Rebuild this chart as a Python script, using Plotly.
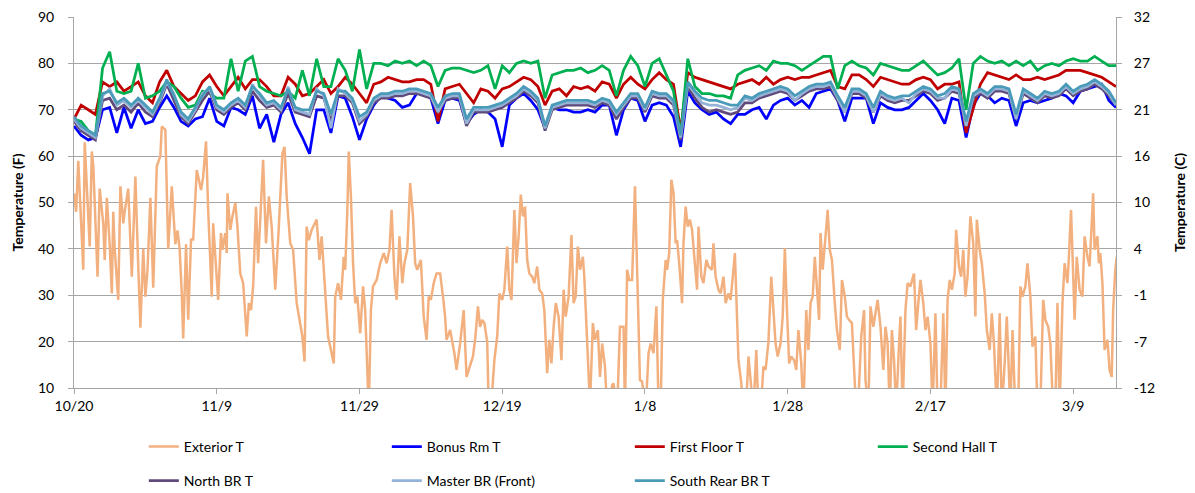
import pandas as pd
import plotly.graph_objects as go

start = pd.Timestamp("2012-10-20")
tick_days = [0, 20, 40, 60, 80, 100, 120, 140]
tick_labels = ["10/20", "11/9", "11/29", "12/19", "1/8", "1/28", "2/17", "3/9"]
f_ticks = [10, 20, 30, 40, 50, 60, 70, 80, 90]
c_labels = ["-12", "-7", "-1", "4", "10", "16", "21", "27", "32"]

ext_day = [0.0,0.3,0.6,1.1,1.3,1.5,1.8,2.2,2.5,2.7,3.3,3.6,4.1,4.3,4.6,5.0,5.3,5.5,5.7,6.2,6.5,6.9,7.1,7.6,8.1,8.6,8.9,9.3,9.7,10.0,10.3,10.7,11.1,11.6,12.1,12.3,12.8,13.0,13.2,13.7,14.2,14.5,14.8,15.1,15.3,15.7,16.0,16.4,16.7,17.2,
 17.8,18.1,18.5,18.8,19.3,19.5,20.0,20.2,20.6,20.8,21.2,21.4,21.5,21.9,22.2,22.6,22.9,23.3,23.7,24.2,24.5,24.8,25.1,25.5,25.8,26.2,26.5,26.9,27.3,27.7,28.2,28.7,29.2,29.5,29.8,30.3,30.7,31.2,31.7,32.0,32.3,32.6,32.9,33.3,34.0,34.4,34.7,35.2,35.6,
 36.4,36.6,37.0,37.4,37.8,38.0,38.3,38.5,38.8,39.1,39.4,39.7,40.1,40.5,40.8,41.3,41.6,41.9,42.4,42.9,43.4,43.8,44.2,44.5,44.9,45.2,45.6,46.0,46.3,46.7,47.1,47.5,47.8,48.1,48.6,49.0,49.4,49.7,50.0,50.4,50.8,51.3,51.7,52.0,52.2,52.7,53.3,53.6,54.1,54.6,55.0,
 55.5,55.9,56.2,56.6,56.9,57.2,57.5,57.9,58.1,58.5,58.9,59.3,59.6,60.0,60.3,60.7,61.0,61.3,61.7,62.0,62.3,62.6,62.9,63.2,63.5,63.8,64.2,64.5,64.9,65.2,65.6,65.9,66.3,66.6,66.9,67.2,67.5,67.9,68.3,68.6,68.9,69.3,69.7,70.0,70.3,70.6,70.9,71.3,71.5,71.9,72.3,72.7,73.0,73.4,73.7,74.0,
 74.4,74.7,75.4,75.6,76.1,76.5,77.0,77.2,77.5,77.8,78.2,78.6,78.9,79.3,79.6,80.1,80.5,80.8,81.2,81.6,81.9,82.2,82.5,82.9,83.1,83.4,83.7,84.0,84.3,84.5,84.8,85.2,85.4,85.7,86.0,86.3,86.6,86.9,87.3,87.5,87.9,88.2,88.6,88.9,89.4,89.6,89.9,90.3,90.6,91.0,91.3,91.7,92.0,92.4,92.6,
 93.1,93.5,93.8,94.2,94.5,94.8,95.2,95.6,95.9,96.3,96.6,96.9,97.3,97.7,97.9,98.3,98.6,99.0,99.3,99.6,99.9,100.2,100.5,100.9,101.2,101.5,101.9,102.2,102.6,102.9,103.2,103.5,103.8,104.1,104.4,104.6,104.9,105.3,105.6,105.9,106.2,106.6,106.9,107.3,107.6,108.0,108.3,108.6,109.0,109.2,109.6,109.9,110.3,110.7,110.9,111.3,111.6,
 112.0,112.3,112.6,113.0,113.4,113.7,114.0,114.3,114.6,114.9,115.2,115.6,115.8,116.1,116.5,116.8,117.2,117.7,118.0,118.3,118.6,119.0,119.3,119.6,120.0,120.3,120.7,121.0,121.4,121.8,122.1,122.4,122.7,123.0,123.4,123.6,124.0,124.3,124.6,124.9,125.2,125.6,126.0,126.3,126.5,126.9,127.2,127.6,127.9,128.3,128.6,128.9,129.3,129.7,130.0,130.4,130.7,
 131.2,131.5,131.9,132.3,132.6,132.9,133.3,133.6,134.0,134.3,134.7,135.0,135.4,135.8,136.1,136.5,136.8,137.2,137.5,137.8,138.1,138.5,138.8,139.2,139.4,139.7,139.9,140.2,140.5,140.9,141.3,141.6,142.0,142.3,142.6,142.8,143.0,143.4,143.6,143.8,144.1,144.4,144.8,145.1,145.4,145.6,145.9,146.1]

ext_temp = [52,48,59,44,35.5,63,53,40.5,61,58,34,53,45.5,37.6,51,41,30.4,48,40,29,53.5,45.5,48,53,34,55.6,41,23,40,29.7,35.5,51,31.6,57.8,60,66.4,65.7,54,40,53.5,41,44,40,30.4,20.7,41,24.7,42,42,57,
 52.7,55.6,63.2,48.4,29.7,45.5,33.3,29,43.4,39.8,43.4,39.1,52,44.1,47,49.9,44.8,34.7,32.6,21.1,28.3,26.8,31.9,49.1,36.9,48.4,59.2,41.2,51.3,44.8,31.2,44.8,60.6,62,51.3,41.2,39.8,28.3,23.2,21.1,15.7,44.8,41.9,44.1,46.3,37.6,42.7,30.4,21.1,
 15.3,29.7,32.6,29,38.3,35.5,48.4,61,51.3,36.9,28.3,29.7,21.8,31.9,26.8,5,26.8,31.9,33.3,36.9,39.1,36.9,39.8,48.4,34,29,42.7,32.6,36.9,39.8,54.2,47,36.9,35.5,37.6,25.4,20.4,29.7,29,32.6,34.7,34.7,29.7,25.4,20.4,22.5,17.5,13.9,19.6,26.8,12.4,
 14.6,16.8,20.4,27.6,23.2,24.7,24,19.9,6,7,16,21.1,30.4,29,31.2,40.5,31.2,29,48.4,36.9,42.7,51.7,47,49.1,37.6,34.7,34,32.6,36.2,31.2,30.4,26.8,13.2,20.4,15.3,23.2,28.3,25.4,16,31.2,25.4,29.7,43,28.3,29.7,40.5,35.5,38.3,34,19.6,6,24,20.4,22.5,12.4,19.6,
 14.6,5,10.6,11,5,23.2,23.2,5,35.5,33.3,33.3,53.5,32.6,11.7,11.4,5,17.5,19.6,17.5,27.6,6,6,29,37.6,35.5,39.1,54.9,52,41.2,41.9,36.9,28.3,41.2,49.1,44.8,46.3,44.1,38.3,31.2,44.8,34,32.6,37.6,36.2,35.5,41.2,34,31.2,30.4,34,28.3,30.4,29,35.5,39.1,
 16,11,5,7,16.8,11,5,18.2,5,7,14.6,13.9,19.9,34,28.3,19.6,16.8,19.6,25.4,40.1,26.8,15.3,16.8,16,13.9,22.5,15.3,5,26.8,18.2,28.3,29.7,38.3,31.2,24.7,43.4,35.5,42.7,48.4,39.8,37.6,28.3,22.5,18.2,33.3,29.7,25.4,24.7,24,17.5,5,7,21.1,26.8,11.7,5,27.6,
 23.2,26.1,29,23.2,13.9,23.2,19.6,5,22.5,16,5,19.6,25.4,5,26.8,32.6,31.9,34.7,22.5,28.3,33.3,28.3,22.5,25.4,19.6,5,26.1,5,6,26.1,5,29,33.3,31.2,34.7,44.1,36.2,34,39.8,29.7,34,47,41.2,25.4,46.3,39.8,36.9,30.4,22.5,18.2,26.1,19.6,5,26.1,5,15.3,25.4,
 5,22.5,5,6,31.9,29.7,31.9,36.9,29.7,18.9,21.1,5,6,29,24.7,23.2,19.6,5,6,28.3,5,28.3,36.9,32.6,38.3,48.4,39.1,24.7,38.3,31.2,29.7,42.7,38.3,36.2,45.5,52,39.8,42.7,36.9,39.1,32.6,18.2,20.4,13.9,12.4,26.8,35.5,38.3]

bonus_rm = [66.5,64.5,63.5,64,70,70.5,65,70.5,66,70,67,67.5,70.5,73,70.5,67.5,66.5,68,68.5,72.5,
 67.5,66.5,70.5,70,69,73,66,69,63,69,71.5,67,64,60.5,70,70,65,73,72.5,68.5,
 63.5,68,71,73,72.5,72,70.5,71,73.5,73.5,72.5,67,72,72.5,72,67,69,70,69.5,68,
 62,71,72.5,73.5,72,70,66,70.5,70,70,69.5,69.5,70,69.5,71,71,64.5,70,72.5,72,
 67.5,71,71.5,71,68.5,62,74,71.5,70,69,69.5,68,67,69,69,70,70.5,68,71,72,
 72.5,71,72,70.5,73.5,74,74.5,72,67.5,72.5,72.5,72.5,67,71.5,70.5,70,70,70.5,72,73.5,
 72,70,67,72.5,72,64,71,73.5,73,71.5,72.5,72,66.5,71.5,72,71.5,72,72.5,73.5,73,
 71.5,74,74.5,75,75.5,72,70.5]

first_floor = [68,71,70,69,76,75,76,74,75,76,73,71.5,76,78.5,75,73.5,72,73,76,77.5,
 75,73,75,77,74.5,76.5,76.5,75,73,73,77,75.5,73,73.5,75,76.5,73.5,75,77,75.5,
 73.5,71.5,75.5,76,77,76.5,76,76,76.5,76.5,75.5,67.5,74.5,75,75.5,73.5,71.5,74.5,74,72.5,
 74.5,75,76,77,76.5,75,71,74,74.5,73,75,74.5,75,74,76,75.5,72.5,75.5,77,75.5,
 74.5,76.5,78,76.5,75.5,65.5,78,77,76.5,76,75.5,75,74.5,75.5,76,76.5,75.5,77,75.5,76.5,
 77,76.5,77,77,77.5,78,78.5,75,74.5,77.5,77.5,76.5,75,77,76.5,76,75.5,75.5,76.5,77,
 76.5,74.5,75.5,75.5,76,65,70,75.5,78,77.5,77,76.5,77.5,76.5,76.5,77,76.5,77,77.5,78.5,
 78.5,78.5,78,77.5,77,76,75]

second_hall = [68,67.5,65.5,64.5,79,82.5,74,73.5,74,80,72.5,73,74,76,75,72.5,70.5,71,74,73.5,
 72.5,72.5,81,74,80.5,81.5,75,74,73.5,73,74,72.5,78.5,73,81,75,75,81,78.5,74,
 83,74.5,80,80,79.5,80.5,80,80.5,79.5,80.5,79.5,75,78.5,79,79,78.5,78,78.5,79.5,74.5,
 79.5,78,80,80.5,80,80.5,72.5,77.5,78,78.5,78.5,79,78,78.5,79.5,78.5,73,78.5,81.5,79.5,
 75,80,81,77.5,74,64.5,81,75,73.5,73.5,73,73,72.5,77.5,78.5,79,79.5,78.5,80.5,80,
 80,79.5,78.5,79.5,80.5,81.5,81.5,74.5,79.5,80.5,79.5,79,77.5,80,79.5,79,78.5,78.5,79.5,80.5,
 79,77.5,78,79,81,70,80,81.5,80.5,80,80.5,79.5,80.5,79.5,80.5,78.5,79.5,80,79.5,80.5,
 81,80.5,80.5,81.5,80.5,79.5,79.5]

north_br = [67.5,65.5,64.5,63.5,72,72.5,70,71,69.5,71.5,69.5,68.5,71.5,75.5,72,68.5,67,69.5,72,74,
 70,69,70.5,71.5,70,74,72,70.5,71,69.5,73.5,69.5,69,68.5,73,72.5,67.5,73,73,71.5,
 67,68.5,71.5,72.5,72.5,73,73,73.5,73.5,73,72.5,69.5,72,72.5,72.5,66.5,69.5,69.5,69.5,70,
 70.5,71.5,72.5,74,73,71.5,65.5,70,70.5,71,71,71,71,70.5,71.5,71,68,70.5,72.5,72.5,
 69.5,73,72.5,72.5,71,63.5,75,72.5,70.5,69.5,70,69.5,69,69.5,71.5,71.5,72.5,73,73.5,74,
 73.5,72,73,74,74.5,74.5,75,72,69.5,73.5,73.5,72.5,69.5,73,72,71.5,72,72,73,74,
 73.5,72,72.5,74,73.5,66.5,72.5,73.5,72.5,74,74,73.5,68,73.5,72.5,71.5,73,72.5,73,74.5,
 73,74,74.5,75.5,74.5,73,71]

master_br = [68,66,65,64,73,74.5,71,72,70.5,72,70.5,69,72,76,73.5,69,67.5,70,73.5,74.5,
 70.5,69.5,71,72,70.5,75.5,73,71,71.5,70,75,70,69.5,69,74.5,73,66,74.5,73.5,72,
 67.5,69,72,73,73,73.5,73.5,74,74,73.5,73,69.5,72.5,73,73,67,70,70,70,70.5,
 71,72,73,74.5,73.5,72,66,70.5,71,71.5,71.5,71.5,71.5,71,72,71.5,69,71,73,73,
 70,73.5,73,73,71.5,64,75.5,73.5,71.5,71,71,70.5,70,70.5,72.5,72,73,73.5,74,74.5,
 74,72,73.5,74.5,75,75,75.5,72.5,69.5,74,74,73,69.5,73.5,72.5,72,72.5,71.5,73.5,74.5,
 74,72.5,72.5,74.5,74,66.5,73,74,73,74.5,74.5,74,68,74,73,72,73.5,73,73.5,75,
 73.5,74.5,75,76,75,73.5,71]

south_rear_br = [68.5,66.5,65.5,64.5,73.5,74,71.5,72.5,71,72.5,71,69.5,72.5,76.5,73,69.5,68,70.5,73,75,
 71,70,71.5,72.5,71,75,73.5,71.5,72,70.5,74.5,70.5,70,70,74,73.5,69,74,74,72.5,
 68.5,69.5,72.5,73.5,73.5,74,74,74.5,74.5,74,73.5,70.5,73,73.5,73.5,68,70.5,70.5,70.5,71,
 71.5,72.5,73.5,75,74,72.5,66.5,71,71.5,72,72,72,72,71.5,72.5,72,69.5,71.5,73.5,73.5,
 70.5,74,73.5,73.5,72,64.5,76,74,72.5,72,72,71.5,71,71,73,72.5,73.5,74,74.5,75,
 74.5,73,74,75,75.5,75.5,76,73,70.5,74.5,74.5,73.5,70.5,74,73,72.5,73,73,74,75,
 74.5,73,73.5,75,74.5,67.5,73.5,74.5,73.5,75,75,74.5,69,74.5,73.5,72.5,74,73.5,74,75.5,
 74,75,75.5,76.5,75.5,74,71.5]

def to_dates(days):
    return [start + pd.Timedelta(days=d) for d in days]

daily_x = to_dates(range(len(bonus_rm)))
ext_x = to_dates(ext_day)

FONT = "Lato"
LW = 2.75
fig = go.Figure()
fig.add_trace(go.Scatter(x=ext_x, y=ext_temp, mode="lines", name="Exterior T",
                         line=dict(color="#F3B07F", width=2.5), legend="legend"))
fig.add_trace(go.Scatter(x=daily_x, y=bonus_rm, mode="lines", name="Bonus Rm T",
                         line=dict(color="#0000FF", width=LW), legend="legend"))
fig.add_trace(go.Scatter(x=daily_x, y=first_floor, mode="lines", name="First Floor T",
                         line=dict(color="#C00000", width=LW), legend="legend"))
fig.add_trace(go.Scatter(x=daily_x, y=second_hall, mode="lines", name="Second Hall T",
                         line=dict(color="#00B050", width=LW), legend="legend"))
fig.add_trace(go.Scatter(x=daily_x, y=north_br, mode="lines", name="North BR T",
                         line=dict(color="#604A7B", width=LW), legend="legend2"))
fig.add_trace(go.Scatter(x=daily_x, y=master_br, mode="lines", name="Master BR (Front)",
                         line=dict(color="#95B3D7", width=LW), legend="legend2"))
fig.add_trace(go.Scatter(x=daily_x, y=south_rear_br, mode="lines", name="South Rear BR T",
                         line=dict(color="#4A9BBA", width=LW), legend="legend2", yaxis="y2"))

grid = "#A6A6A6"
fig.update_layout(
    width=1195, height=493,
    margin=dict(l=74, r=79, t=17, b=105, autoexpand=False),
    paper_bgcolor="white", plot_bgcolor="white",
    font=dict(family=FONT, size=14, color="#000000"),
    showlegend=True,
    xaxis=dict(
        type="date",
        range=[start, start + pd.Timedelta(days=146)],
        tickvals=to_dates(tick_days), ticktext=tick_labels,
        ticks="outside", ticklen=5, tickcolor=grid,
        showgrid=False, showline=True, linecolor=grid, linewidth=1,
        tickfont=dict(family=FONT, size=14),
    ),
    yaxis=dict(
        range=[10, 90], tickvals=f_ticks,
        ticks="outside", ticklen=5, tickcolor=grid,
        showgrid=True, gridcolor=grid, gridwidth=1,
        showline=True, linecolor=grid, linewidth=1, zeroline=False,
        title=dict(text="<b>Temperature (F)</b>", font=dict(family=FONT, size=14), standoff=11),
        ticklabelstandoff=11,
    ),
    yaxis2=dict(
        overlaying="y", side="right",
        range=[10, 90], tickvals=f_ticks, ticktext=c_labels,
        ticks="outside", ticklen=5, tickcolor=grid,
        showgrid=False, showline=True, linecolor=grid, linewidth=1, zeroline=False,
        title=dict(text="<b>Temperature (C)</b>", font=dict(family=FONT, size=14), standoff=20),
        ticklabelstandoff=9,
    ),
    legend=dict(orientation="h", x=0.067, xanchor="left", y=-0.159, yanchor="middle",
                entrywidth=198, entrywidthmode="pixels", traceorder="normal",
                font=dict(family=FONT, size=14), bgcolor="rgba(0,0,0,0)"),
    legend2=dict(orientation="h", x=0.067, xanchor="left", y=-0.251, yanchor="middle",
                 entrywidth=198, entrywidthmode="pixels", traceorder="normal",
                 font=dict(family=FONT, size=14), bgcolor="rgba(0,0,0,0)"),
)

fig.write_html("out.html", config={"displayModeBar": False},
               post_script="document.body.style.margin='0px';")
